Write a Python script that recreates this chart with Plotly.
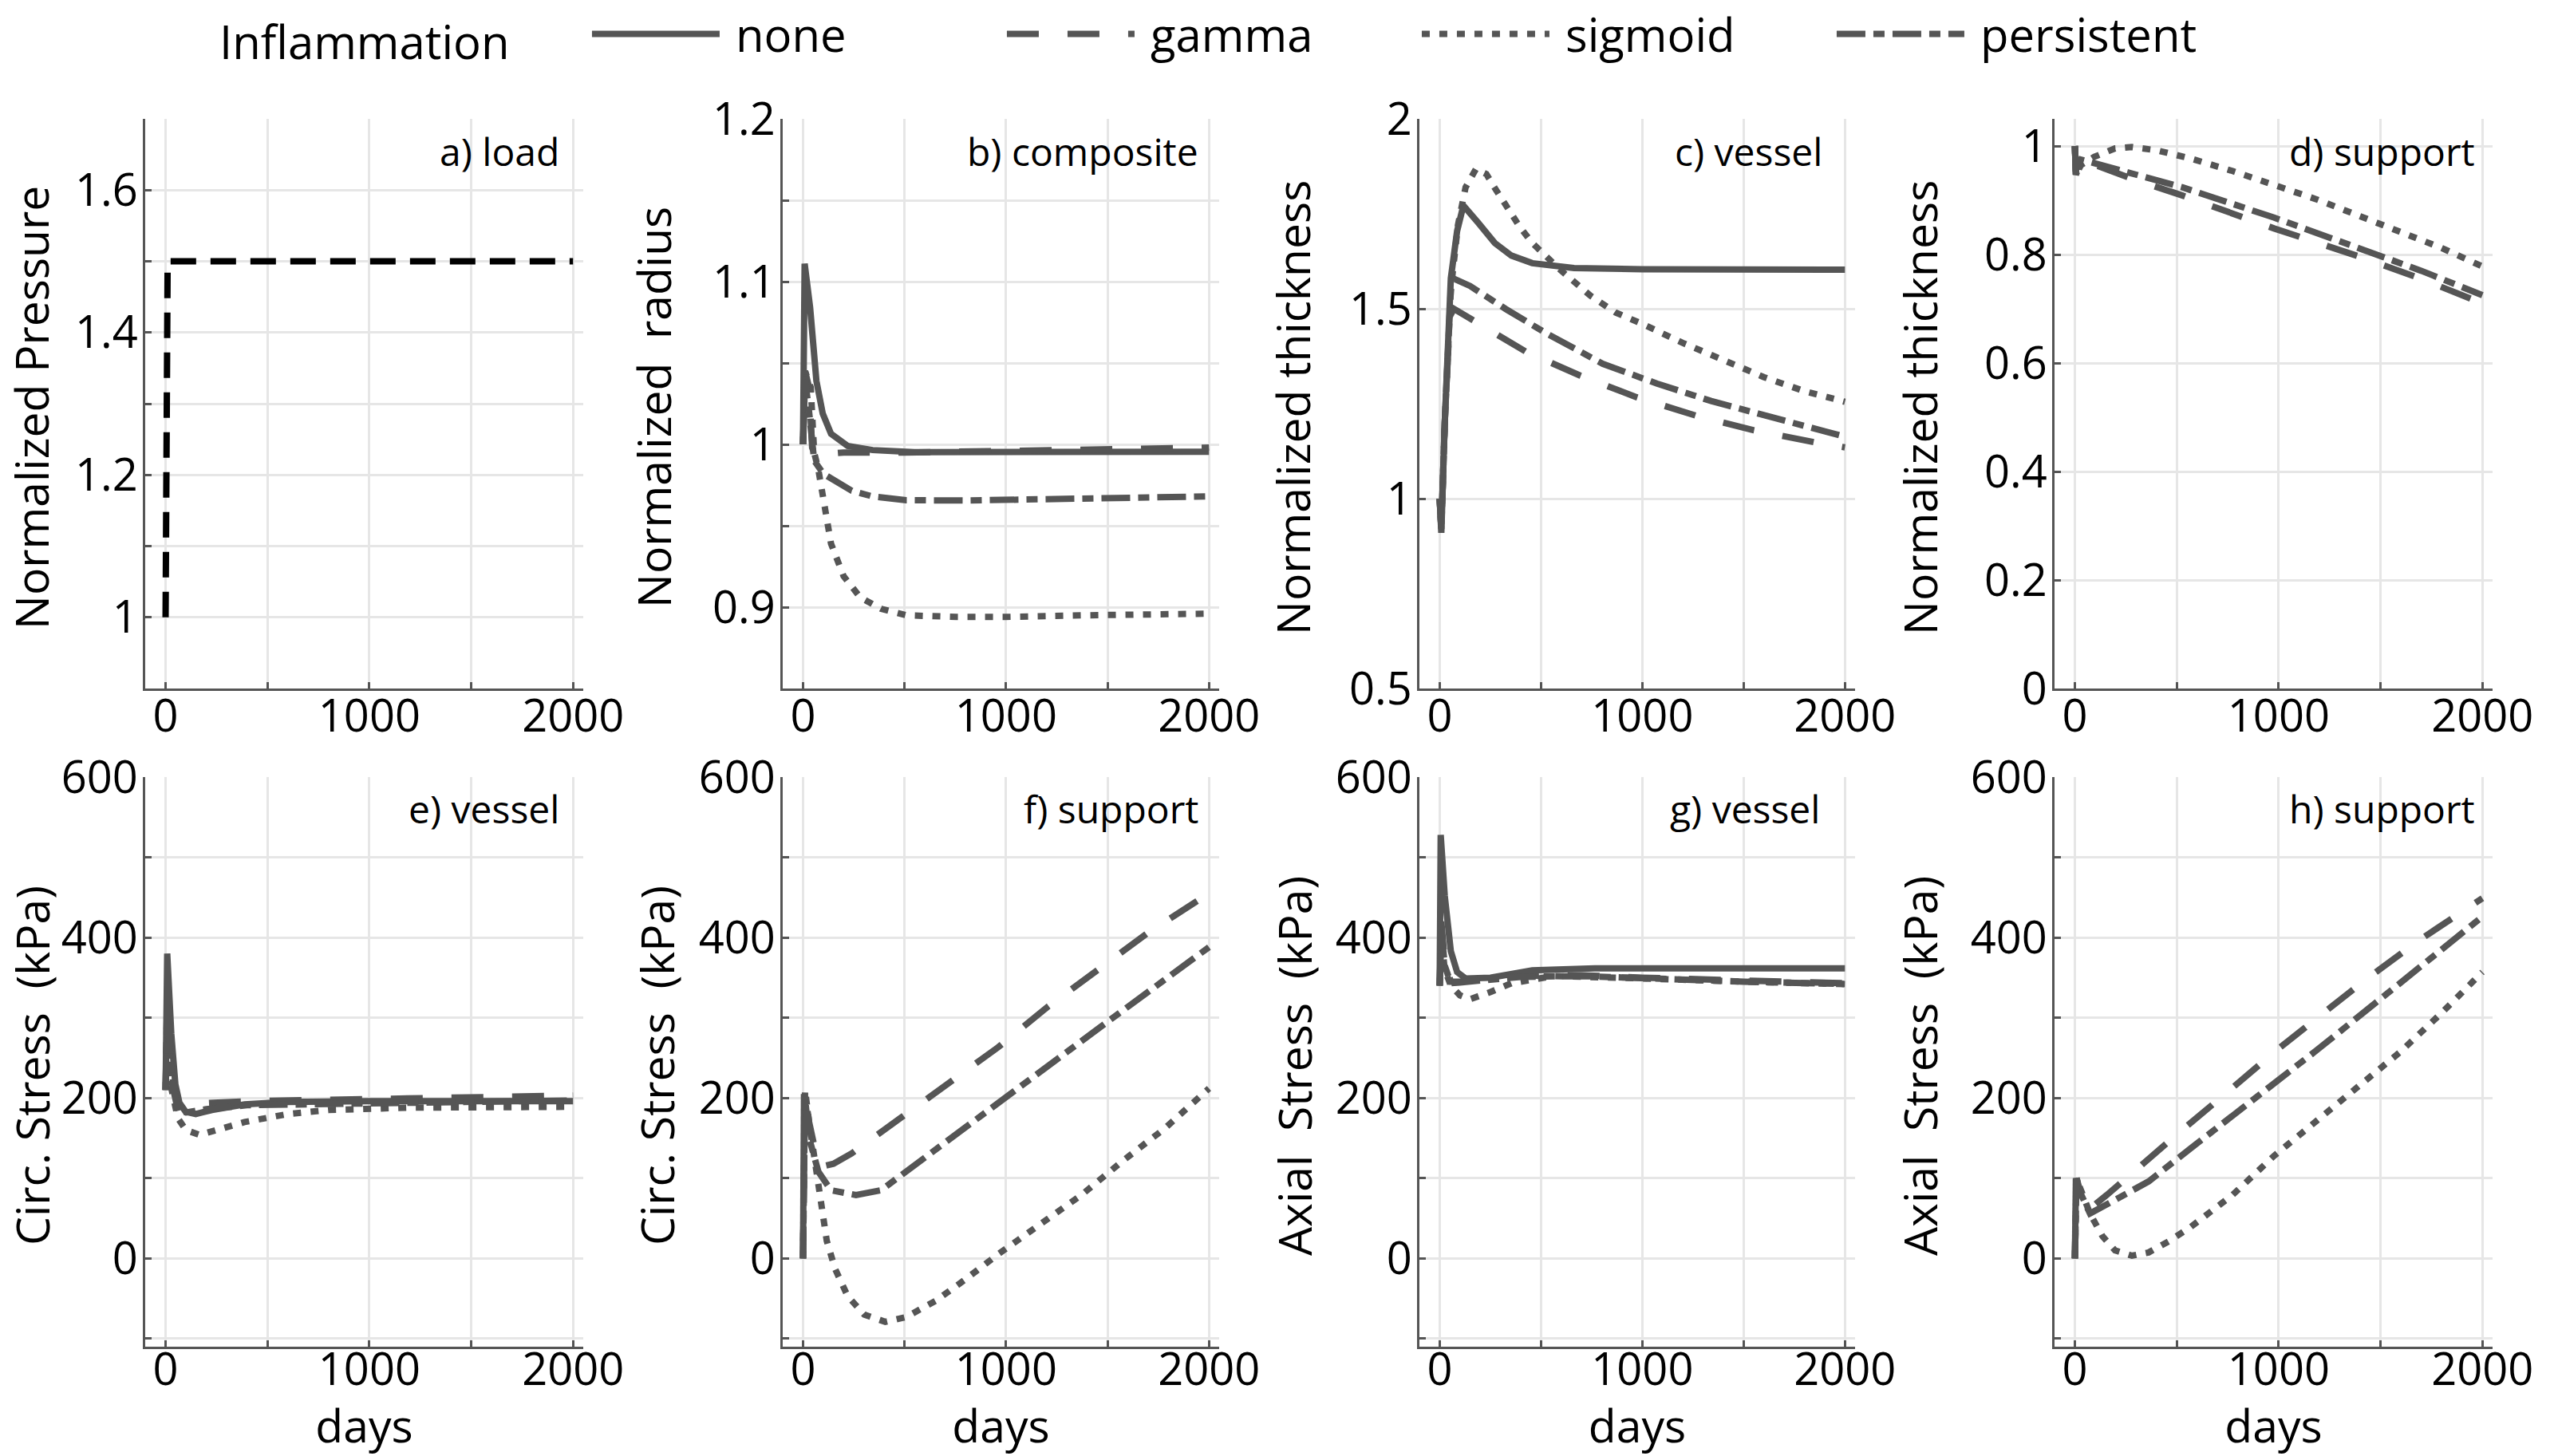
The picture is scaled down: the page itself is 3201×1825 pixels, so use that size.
import plotly.graph_objects as go

FIG_W, FIG_H = 3201, 1825
GRAY = '#555555'
FONT = 'Open Sans'

# ---------------- data ----------------
day_major = [0, 1000, 2000]
day_minor = [500, 1500]

# a) load
load_t = [0, 10, 2000]
load_p = [1.0, 1.5, 1.5]

# b) composite radius
b_none_t = [0, 8, 35, 66, 97, 138, 220, 343, 549, 1000, 1500, 2000]
b_none_y = [1.0, 1.111, 1.084, 1.039, 1.019, 1.0065, 0.999, 0.9965, 0.9952, 0.995, 0.995, 0.9955]
b_gamma_t = [0, 10, 30, 45, 60, 100, 200, 500, 1000, 1500, 2000]
b_gamma_y = [1.0, 1.045, 1.035, 0.998, 0.993, 0.994, 0.995, 0.995, 0.996, 0.997, 0.998]
b_sigmoid_t = [0, 10, 38, 55, 75, 100, 117, 138, 200, 282, 384, 508, 754, 1000, 1400, 2000]
b_sigmoid_y = [1.0, 1.045, 1.035, 0.995, 0.985, 0.965, 0.951, 0.939, 0.919, 0.906, 0.899, 0.895, 0.894, 0.894, 0.895, 0.896]
b_persistent_t = [0, 10, 30, 55, 100, 138, 240, 343, 508, 800, 1200, 1600, 2000]
b_persistent_y = [1.0, 1.04, 1.02, 0.99, 0.982, 0.979, 0.9715, 0.968, 0.9657, 0.9655, 0.9662, 0.967, 0.968]

# c) vessel thickness
c_none_t = [0, 8, 25, 55, 86, 117, 189, 272, 354, 457, 663, 1000, 2000]
c_none_y = [1.0, 0.91, 1.2, 1.58, 1.705, 1.772, 1.727, 1.673, 1.64, 1.62, 1.607, 1.604, 1.603]
c_gamma_t = [0, 8, 25, 50, 70, 138, 425, 693, 972, 1268, 1551, 1846, 2000]
c_gamma_y = [1.0, 0.92, 1.2, 1.48, 1.5, 1.478, 1.387, 1.324, 1.267, 1.218, 1.18, 1.149, 1.135]
c_sigmoid_t = [0, 8, 25, 55, 90, 128, 179, 230, 272, 333, 395, 457, 539, 600, 745, 868, 1000, 1200, 1400, 1600, 1800, 2000]
c_sigmoid_y = [1.0, 0.92, 1.2, 1.55, 1.72, 1.82, 1.868, 1.855, 1.818, 1.764, 1.716, 1.673, 1.63, 1.60, 1.534, 1.49, 1.46, 1.41, 1.365, 1.32, 1.283, 1.255]
c_persistent_t = [0, 8, 25, 55, 75, 150, 327, 524, 805, 1072, 1340, 1649, 1930, 2000]
c_persistent_y = [1.0, 0.92, 1.2, 1.55, 1.578, 1.56, 1.499, 1.436, 1.355, 1.303, 1.257, 1.215, 1.173, 1.163]

# d) support thickness
d_none_t = [0, 5]
d_none_y = [1.0, 0.947]
d_gamma_t = [0, 5, 30, 100, 300, 526, 978, 1390, 1700, 2000]
d_gamma_y = [1.0, 0.947, 0.972, 0.965, 0.937, 0.909, 0.848, 0.797, 0.755, 0.71]
d_sigmoid_t = [0, 5, 30, 95, 197, 280, 403, 567, 773, 978, 1184, 1390, 1595, 1800, 2000]
d_sigmoid_y = [1.0, 0.947, 0.965, 0.98, 0.9955, 0.998, 0.992, 0.977, 0.954, 0.928, 0.902, 0.872, 0.842, 0.812, 0.778]
d_persistent_t = [0, 5, 30, 100, 300, 526, 978, 1390, 1700, 2000]
d_persistent_y = [1.0, 0.947, 0.975, 0.968, 0.945, 0.924, 0.868, 0.812, 0.77, 0.725]

# e) vessel circumferential stress (kPa)
e_none_t = [0, 8, 28, 48, 68, 98, 148, 228, 388, 588, 1000, 2000]
e_none_y = [210, 380, 280, 217, 194, 183, 180, 185, 192, 195, 196, 196]
e_gamma_t = [0, 8, 30, 60, 88, 150, 400, 1000, 2000]
e_gamma_y = [210, 330, 230, 188, 190, 193, 196, 199, 203]
e_sigmoid_t = [0, 8, 30, 60, 100, 168, 250, 388, 600, 800, 1200, 2000]
e_sigmoid_y = [210, 300, 210, 175, 160, 154, 160, 170, 180, 185, 188, 189]
e_persistent_t = [0, 8, 30, 60, 100, 200, 400, 1000, 2000]
e_persistent_y = [210, 320, 220, 185, 182, 186, 191, 194, 197]

# f) support circumferential stress (kPa)
f_none_t = [0, 5]
f_none_y = [0, 205]
f_gamma_t = [0, 10, 30, 60, 100, 150, 240, 508, 754, 960, 1207, 1453, 1700, 2000]
f_gamma_y = [0, 205, 170, 135, 115, 118, 131, 180, 225, 263, 314, 360, 406, 455]
f_sigmoid_t = [0, 10, 30, 76, 117, 158, 220, 302, 405, 508, 652, 795, 960, 1165, 1371, 1577, 1782, 2000]
f_sigmoid_y = [0, 210, 170, 85, 22, -13, -47, -70, -79, -73, -53, -27, 5, 42, 79, 122, 162, 212]
f_persistent_t = [0, 10, 30, 76, 138, 261, 384, 508, 754, 1000, 1250, 1500, 1750, 2000]
f_persistent_y = [0, 200, 150, 108, 85, 79, 85, 108, 154, 200, 248, 295, 342, 388]

# g) vessel axial stress (kPa)
g_none_t = [0, 5, 25, 55, 86, 128, 251, 457, 765, 1000, 2000]
g_none_y = [340, 528, 452, 383, 357, 349, 350, 359, 361.5, 361.5, 361.5]
g_gamma_t = [0, 8, 25, 55, 100, 200, 400, 700, 1000, 1500, 2000]
g_gamma_y = [340, 420, 370, 345, 345, 348, 352, 353, 350, 346, 343]
g_sigmoid_t = [0, 8, 25, 55, 100, 148, 250, 354, 560, 800, 1000, 1500, 2000]
g_sigmoid_y = [340, 400, 360, 340, 328, 323, 332, 343, 352, 351, 349, 345, 342]
g_persistent_t = [0, 8, 25, 55, 100, 200, 400, 700, 1000, 1500, 2000]
g_persistent_y = [340, 410, 365, 343, 344, 347, 351, 352, 349, 345, 342]

# h) support axial stress (kPa)
h_none_t = [0, 5]
h_none_y = [0, 100]
h_gamma_t = [0, 8, 30, 74, 156, 300, 526, 752, 978, 1205, 1451, 1698, 2000]
h_gamma_y = [0, 100, 80, 62, 79, 111, 160, 208, 257, 303, 352, 398, 449]
h_sigmoid_t = [0, 8, 30, 74, 136, 197, 280, 362, 465, 567, 773, 978, 1184, 1390, 1595, 1800, 2000]
h_sigmoid_y = [0, 99, 85, 56, 27.5, 10, 3.4, 7.5, 22, 39, 79, 128, 171, 214, 257, 306, 357]
h_persistent_t = [0, 8, 30, 74, 197, 362, 567, 773, 978, 1184, 1390, 1595, 1800, 2000]
h_persistent_y = [0, 100, 80, 56, 73, 96, 137, 177, 217, 259, 301, 343, 385, 426]

series_names = ['none', 'gamma', 'sigmoid', 'persistent']

# panel texts / axes
panel_labels = ['a) load', 'b) composite', 'c) vessel', 'd) support',
                'e) vessel', 'f) support', 'g) vessel', 'h) support']
y_titles = ['Normalized Pressure', 'Normalized\u00a0 radius', 'Normalized thickness', 'Normalized thickness',
            'Circ. Stress\u00a0 (kPa)', 'Circ. Stress\u00a0 (kPa)', 'Axial\u00a0 Stress\u00a0 (kPa)', 'Axial\u00a0 Stress\u00a0 (kPa)']
y_ranges = [[0.9, 1.7], [0.85, 1.2], [0.5, 2.0], [0.0, 1.05],
            [-110, 600], [-110, 600], [-110, 600], [-110, 600]]
a_major = [1.0, 1.2, 1.4, 1.6]
a_major_txt = ['1', '1.2', '1.4', '1.6']
a_minor = [0.9, 1.1, 1.3, 1.5, 1.7]
b_major = [0.9, 1.0, 1.1, 1.2]
b_major_txt = ['0.9', '1', '1.1', '1.2']
b_minor = [0.85, 0.95, 1.05, 1.15]
c_major = [0.5, 1.0, 1.5, 2.0]
c_major_txt = ['0.5', '1', '1.5', '2']
c_minor = []
d_major = [0, 0.2, 0.4, 0.6, 0.8, 1.0]
d_major_txt = ['0', '0.2', '0.4', '0.6', '0.8', '1']
d_minor = []
s_major = [0, 200, 400, 600]
s_major_txt = ['0', '200', '400', '600']
s_minor = [-100, 100, 300, 500]
y_major = [a_major, b_major, c_major, d_major, s_major, s_major, s_major, s_major]
y_major_txt = [a_major_txt, b_major_txt, c_major_txt, d_major_txt, s_major_txt, s_major_txt, s_major_txt, s_major_txt]
y_minor = [a_minor, b_minor, c_minor, d_minor, s_minor, s_minor, s_minor, s_minor]

panel_series = [
    None,
    [(b_none_t, b_none_y), (b_gamma_t, b_gamma_y), (b_sigmoid_t, b_sigmoid_y), (b_persistent_t, b_persistent_y)],
    [(c_none_t, c_none_y), (c_gamma_t, c_gamma_y), (c_sigmoid_t, c_sigmoid_y), (c_persistent_t, c_persistent_y)],
    [(d_none_t, d_none_y), (d_gamma_t, d_gamma_y), (d_sigmoid_t, d_sigmoid_y), (d_persistent_t, d_persistent_y)],
    [(e_none_t, e_none_y), (e_gamma_t, e_gamma_y), (e_sigmoid_t, e_sigmoid_y), (e_persistent_t, e_persistent_y)],
    [(f_none_t, f_none_y), (f_gamma_t, f_gamma_y), (f_sigmoid_t, f_sigmoid_y), (f_persistent_t, f_persistent_y)],
    [(g_none_t, g_none_y), (g_gamma_t, g_gamma_y), (g_sigmoid_t, g_sigmoid_y), (g_persistent_t, g_persistent_y)],
    [(h_none_t, h_none_y), (h_gamma_t, h_gamma_y), (h_sigmoid_t, h_sigmoid_y), (h_persistent_t, h_persistent_y)],
]

# ---------------- styling / layout ----------------
LW = 8
line_styles = {
    'none': dict(color=GRAY, width=LW, dash='solid'),
    'gamma': dict(color=GRAY, width=LW, dash='40px,36px'),
    'sigmoid': dict(color=GRAY, width=LW, dash='10px,12px'),
    'persistent': dict(color=GRAY, width=LW, dash='36px,10px,14px,10px'),
}
NBSP = '\u00a0'
GRID = '#e6e6e6'

cols_px = [(182, 731), (981, 1528), (1779, 2325), (2575, 3124)]
rows_px = [(149, 863), (974, 1688)]
label_xshift = [-28, -24, -39, -20, -28, -24, -42, -20]
title_offset = [143, 162, 159, 169, 142, 158, 157, 169]
x_label_standoff = [-16, -22]
days_standoff = 7

fig = go.Figure()

def ax_id(i):
    return '' if i == 0 else str(i + 1)

# panel a
fig.add_trace(go.Scatter(x=load_t, y=load_p, mode='lines', xaxis='x', yaxis='y',
                         line=dict(color='black', width=LW, dash='32px,18px'),
                         showlegend=False, hoverinfo='skip'))

for p in range(1, 8):
    for s, (tt, yy) in enumerate(panel_series[p]):
        nm = series_names[s]
        fig.add_trace(go.Scatter(
            x=tt, y=yy, mode='lines', name=NBSP + nm, legendgroup=nm,
            showlegend=(p == 1), xaxis='x' + ax_id(p), yaxis='y' + ax_id(p),
            line=line_styles[nm], hoverinfo='skip'))

layout = dict(
    width=FIG_W, height=FIG_H, autosize=False,
    margin=dict(l=0, r=0, t=0, b=0, autoexpand=False),
    paper_bgcolor='white', plot_bgcolor='white',
    font=dict(family=FONT, color='black', size=56),
    legend=dict(orientation='h', x=273 / FIG_W, y=1.001, xanchor='left', yanchor='top',
                title=dict(text='Inflammation' + NBSP * 6, side='left', font=dict(size=58)),
                font=dict(size=58, color='black'), itemwidth=160,
                entrywidth=345, entrywidthmode='pixels',
                bgcolor='rgba(0,0,0,0)', borderwidth=0),
)

def minor_spec(vals):
    return dict(tickmode='array', tickvals=vals, ticks='inside', ticklen=8, tickwidth=3,
                tickcolor=GRAY, showgrid=True, gridcolor=GRID, gridwidth=2.5)

annotations = []
for p in range(8):
    r, c = divmod(p, 4)
    xl, xr = cols_px[c]
    yt, yb = rows_px[r]
    xa = dict(domain=[xl / FIG_W, xr / FIG_W], range=[-100, 2050], automargin=False,
              anchor='y' + ax_id(p), tickmode='array', tickvals=day_major,
              ticktext=[str(v) for v in day_major],
              showgrid=True, gridcolor=GRID, gridwidth=2.5, zeroline=False,
              showline=True, linecolor=GRAY, linewidth=3, ticks='inside', ticklen=8,
              tickwidth=3, tickcolor=GRAY, tickfont=dict(size=56, color='black'),
              ticklabelstandoff=x_label_standoff[r], minor=minor_spec(day_minor))
    if r == 1:
        xa['title'] = dict(text='days', font=dict(size=57, color='black'), standoff=days_standoff)
    ya = dict(domain=[1 - yb / FIG_H, 1 - yt / FIG_H], range=y_ranges[p], automargin=False,
              anchor='x' + ax_id(p), tickmode='array', tickvals=y_major[p], ticktext=y_major_txt[p],
              showgrid=True, gridcolor=GRID, gridwidth=2.5, zeroline=False,
              showline=True, linecolor=GRAY, linewidth=3, ticks='inside', ticklen=8,
              tickwidth=3, tickcolor=GRAY, tickfont=dict(size=56, color='black'),
              ticklabelstandoff=-5)
    if y_minor[p]:
        ya['minor'] = minor_spec(y_minor[p])
    layout['xaxis' + ax_id(p)] = xa
    layout['yaxis' + ax_id(p)] = ya
    annotations.append(dict(text=panel_labels[p], xref='x' + ax_id(p) + ' domain', yref='y' + ax_id(p) + ' domain',
                            x=1, y=1, xanchor='right', yanchor='middle', xshift=label_xshift[p], yshift=-40,
                            showarrow=False, font=dict(size=48, color='black')))
    annotations.append(dict(text=y_titles[p], xref='x' + ax_id(p) + ' domain', yref='y' + ax_id(p) + ' domain',
                            x=0, y=0.5, xanchor='center', yanchor='middle', xshift=-title_offset[p], yshift=-5,
                            textangle=-90, showarrow=False, font=dict(size=57, color='black')))
layout['annotations'] = annotations
fig.update_layout(**layout)

fig.write_html("out.html", include_plotlyjs=True, config={'displayModeBar': False},
               post_script="document.body.style.margin='0';document.body.style.overflow='hidden';")
